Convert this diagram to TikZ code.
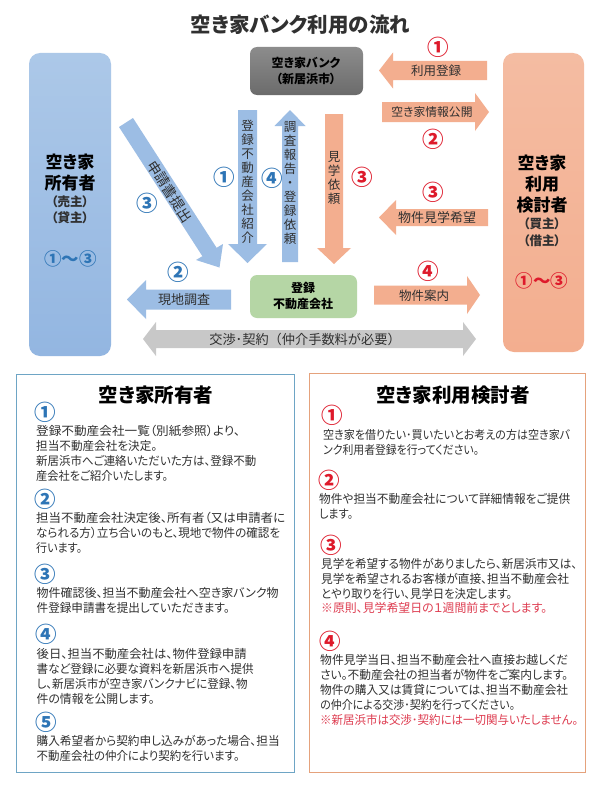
\documentclass[tikz,border=0pt]{standalone}
\usepackage{fontspec}
\usepackage{graphicx}
\setmainfont[RawFeature=+palt]{Noto Sans CJK JP}
\newfontfamily\plainjp{Noto Sans CJK JP}
\definecolor{blueN}{HTML}{2E75B6}
\definecolor{redN}{HTML}{DE1A2B}
\definecolor{bluA}{HTML}{9CBDE4}
\definecolor{bluT}{HTML}{ACC8E8}
\definecolor{bluB}{HTML}{93B6E1}
\definecolor{oraA}{HTML}{F3AE8F}
\definecolor{oraT}{HTML}{F4BCA2}
\definecolor{graA}{HTML}{C8C8C8}
\definecolor{ink}{HTML}{303030}
\definecolor{note}{HTML}{DE3C50}
\definecolor{greenbox}{HTML}{B5D6A5}
\definecolor{panelB}{HTML}{6EA5C5}
\definecolor{panelO}{HTML}{E5A27C}
\newcommand{\hbarrow}[7]{% tip base tail y shaft head style
  \path[#7] (#1,#4) -- (#2,#4-#6) -- (#2,#4-#5) -- (#3,#4-#5) -- (#3,#4+#5) -- (#2,#4+#5) -- (#2,#4+#6) -- cycle;}
\newcommand{\vbarrow}[7]{% tip base tail x shaft head style
  \path[#7] (#4,#1) -- (#4-#6,#2) -- (#4-#5,#2) -- (#4-#5,#3) -- (#4+#5,#3) -- (#4+#5,#2) -- (#4+#6,#2) -- cycle;}
% one text line fitted to the width it has in the reference
\newcommand{\fl}[2]{\resizebox{#1pt}{\height}{#2}}
\tikzset{
  x=1pt,y=-1pt,
  bluearrow/.style={fill=bluA},
  orangearrow/.style={fill=oraA},
  grayarrow/.style={fill=graA},
  arrowlabel/.style={text=ink,inner sep=0pt,font=\fontsize{12.5}{14}\selectfont},
  vlabel/.style={text=ink,inner sep=0pt,align=center,font=\plainjp\fontsize{12.5}{14}\selectfont},
  partyname/.style={inner sep=0pt,align=center,text=black,font=\bfseries\fontsize{17}{21}\selectfont},
  partysub/.style={inner sep=0pt,align=center,text=ink,font=\bfseries\fontsize{12.5}{16.5}\selectfont},
  boxtext/.style={inner sep=0pt,align=center,text=black,font=\bfseries\fontsize{12}{16}\selectfont},
  numblue/.style={inner sep=0pt,text=blueN,font=\plainjp\bfseries\fontsize{21.5}{24}\selectfont},
  numred/.style={inner sep=0pt,text=redN,font=\plainjp\bfseries\fontsize{21.5}{24}\selectfont},
  para/.style={inner sep=0pt,anchor=west,align=left,text=ink,font=\fontsize{12}{14.9}\selectfont},
  paneltitle/.style={inner sep=0pt,text=black,font=\bfseries\fontsize{19.5}{22}\selectfont},
}
\begin{document}
\begin{tikzpicture}
\useasboundingbox (0,0) rectangle (600,800);
\fill[white] (0,0) rectangle (600,800);
\node[inner sep=0pt,text=ink,font=\bfseries\fontsize{20.5}{24}\selectfont] (title) at (300.5,25) {空き家バンク利用の流れ};

% main boxes
\path[rounded corners=11pt,top color=bluT,bottom color=bluB] (29,53) rectangle (111,356);
\path[rounded corners=11pt,top color=oraT,bottom color=oraA] (503,53) rectangle (584,352);
\path[rounded corners=7pt,top color=black!45,bottom color=black!58] (250,47) rectangle (363,95);
\path[rounded corners=7pt,fill=greenbox] (250,275) rectangle (357,318);

\node[partyname] (owner) at (70,172.5) {空き家\\所有者};
\node[partysub] (ownersub) at (70,209.5) {（売主）\\（貸主）};
\node[inner sep=0pt,text=blueN,font=\plainjp\bfseries\fontsize{17.5}{20}\selectfont] (ownernum) at (70.5,259) {①〜③};
\node[partyname] (user) at (542,184) {空き家\\利用\\検討者};
\node[partysub] (usersub) at (542,232) {（買主）\\（借主）};
\node[inner sep=0pt,text=redN,font=\plainjp\bfseries\fontsize{17.5}{20}\selectfont] (usernum) at (542,281) {①〜③};
\node[boxtext] (bank) at (306,71) {空き家バンク\\（新居浜市）};
\node[boxtext] (agent) at (303,295.5) {登録\\不動産会社};

% block arrows
\hbarrow{379}{393}{487}{70.5}{9.5}{18}{orangearrow}
\hbarrow{489}{475}{382}{112}{10}{19}{orangearrow}
\hbarrow{379}{396}{488}{217.5}{8.5}{17.5}{orangearrow}
\hbarrow{480}{467}{374}{295}{9.5}{19}{orangearrow}
\hbarrow{127}{146}{231}{299.5}{10}{19.5}{bluearrow}
\vbarrow{263}{244}{110}{247.5}{9.5}{19.5}{bluearrow}
\vbarrow{110}{126}{262}{290}{8}{15.5}{bluearrow}
\vbarrow{264}{248}{114}{334}{9}{17}{orangearrow}
\path[grayarrow] (143,339) -- (156,322) -- (156,330) -- (463,330) -- (463,322) -- (476,339) -- (463,356) -- (463,348) -- (156,348) -- (156,356) -- cycle;
\path[bluearrow] (119,127) -- (133,118) -- (216.6,247.8) -- (223,244) -- (219.5,267.5) -- (196,260) -- (202.4,256.2) -- cycle;

% arrow labels
\node[arrowlabel] (l1) at (436,71) {利用登録};
\node[arrowlabel,font=\fontsize{11.8}{14}\selectfont] (l2) at (432,112) {空き家情報公開};
\node[arrowlabel,font=\fontsize{13}{14}\selectfont] (l3) at (437,218) {物件見学希望};
\node[arrowlabel] (l4) at (424,296) {物件案内};
\node[arrowlabel,font=\fontsize{13}{14}\selectfont] (l5) at (184,300) {現地調査};
\node[arrowlabel,font=\plainjp\fontsize{13.2}{14}\selectfont] (l6) at (305,339) {交渉･契約（仲介手数料が必要）};
\node[vlabel] (v1) at (247.5,182) {登\\録\\不\\動\\産\\会\\社\\紹\\介};
\node[vlabel] (v2) at (290,183) {調\\査\\報\\告\\・\\登\\録\\依\\頼};
\node[vlabel] (v3) at (334,178) {見\\学\\依\\頼};
\node[arrowlabel,rotate=-57,font=\plainjp\fontsize{14}{15}\selectfont] (v4) at (170,191.5) {申請書提出};

% step numbers in the chart
\node[numred] (r1) at (438,47) {①};
\node[numred] (r2) at (433,139.5) {②};
\node[numred] (r3) at (433,192) {③};
\node[numred] (r4) at (428,271) {④};
\node[numred] (r5) at (362,177) {③};
\node[numblue] (b1) at (224,177) {①};
\node[numblue] (b2) at (272,178) {④};
\node[numblue] (b3) at (147,203.5) {③};
\node[numblue] (b4) at (178,272) {②};

% lower panels
\draw[draw=panelB,line width=1pt] (16.5,374.5) rectangle (294.5,772);
\draw[draw=panelO,line width=1pt] (309.5,373.5) rectangle (585.5,772);
\node[paneltitle] (pt1) at (156,395) {空き家所有者};
\node[paneltitle] (pt2) at (453,395) {空き家利用検討者};

\node[numblue] (a1) at (45,412.5) {①};
\node[para] (p1) at (36,453.7) {\fl{204}{登録不動産会社一覧（別紙参照）より、}\\\fl{121}{担当不動産会社を決定。}\\\fl{220}{新居浜市へご連絡いただいた方は、登録不動}\\\fl{132}{産会社をご紹介いたします。}};
\node[numblue] (a2) at (45,499) {②};
\node[para] (p2) at (36,532.7) {\fl{249}{担当不動産会社決定後、所有者（又は申請者に}\\\fl{244}{なられる方）立ち合いのもと、現地で物件の確認を}\\\fl{46}{行います。}};
\node[numblue] (a3) at (45,574) {③};
\node[para] (p3) at (36.5,600.8) {\fl{242}{物件確認後、担当不動産会社へ空き家バンク物}\\\fl{193}{件登録申請書を提出していただきます。}};
\node[numblue] (a4) at (46,634) {④};
\node[para] (p4) at (36.5,676.3) {\fl{210}{後日、担当不動産会社は、物件登録申請}\\\fl{217}{書など登録に必要な資料を新居浜市へ提供}\\\fl{211}{し、新居浜市が空き家バンクナビに登録、物}\\\fl{118}{件の情報を公開します。}};
\node[numblue] (a5) at (46,722) {⑤};
\node[para] (p5) at (36.5,748.3) {\fl{243}{購入希望者から契約申し込みがあった場合、担当}\\\fl{203}{不動産会社の仲介により契約を行います。}};

\node[numred] (c1) at (332,415) {①};
\node[para] (q1) at (323,442) {\fl{247}{空き家を借りたい･買いたいとお考えの方は空き家バ}\\\fl{156}{ンク利用者登録を行ってください。}};
\node[numred] (c2) at (329,480) {②};
\node[para] (q2) at (319,506.7) {\fl{251}{物件や担当不動産会社について詳細情報をご提供}\\\fl{34}{します。}};
\node[numred] (c3) at (331,545) {③};
\node[para] (q3) at (321,586) {\fl{256}{見学を希望する物件がありましたら、新居浜市又は、}\\\fl{248}{見学を希望されるお客様が直接、担当不動産会社}\\\fl{191}{とやり取りを行い、見学日を決定します。}\\\textcolor{note}{\fl{226}{※原則、見学希望日の１週間前までとします。}}};
\node[numred] (c4) at (330,641) {④};
\node[para] (q4) at (320,690) {\fl{248}{物件見学当日、担当不動産会社へ直接お越しくだ}\\\fl{248}{さい。不動産会社の担当者が物件をご案内します。}\\\fl{248}{物件の購入又は賃貸については、担当不動産会社}\\\fl{195}{の仲介による交渉･契約を行ってください。}\\\textcolor{note}{\fl{258}{※新居浜市は交渉･契約には一切関与いたしません。}}};
\end{tikzpicture}
\end{document}
